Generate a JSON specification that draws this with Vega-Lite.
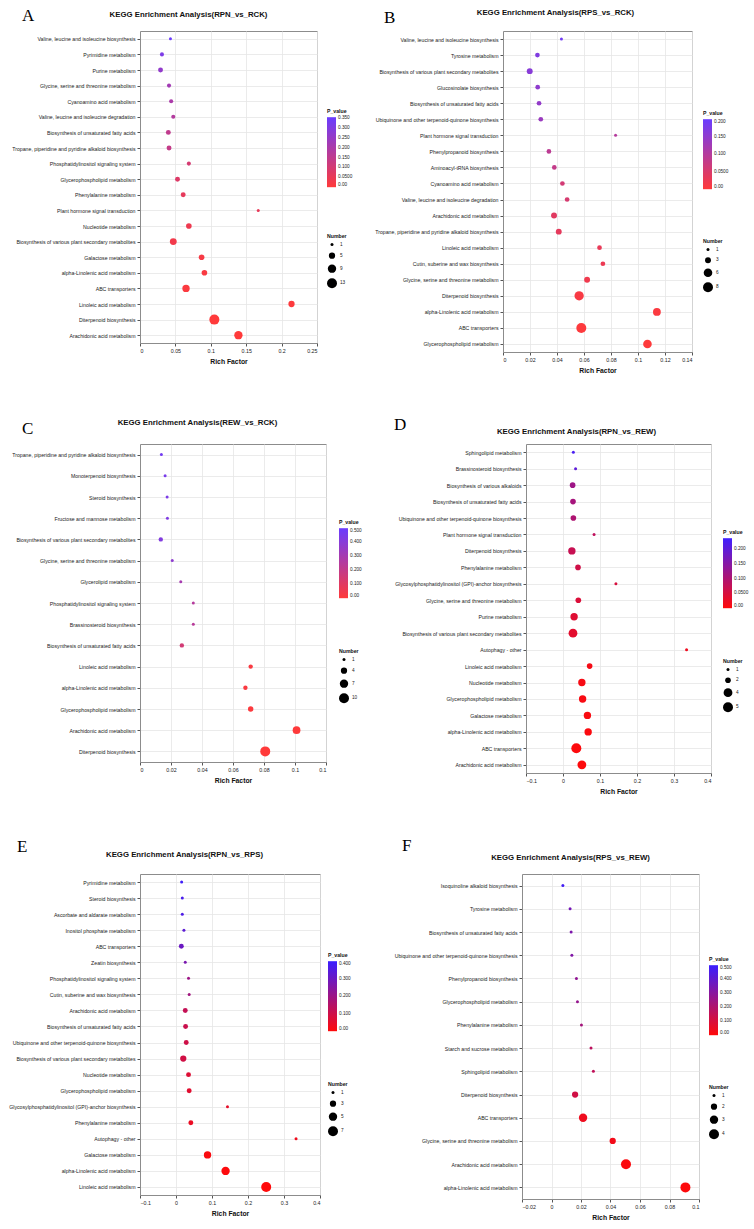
{
"$schema": "https://vega.github.io/schema/vega-lite/v6.json",
"background": "white",
"padding": {"left": 8, "top": 6, "right": 0, "bottom": 0},
"datasets": {
"A": [
{"pathway": "Valine, leucine and isoleucine biosynthesis", "rich": 0.043, "p": 0.352, "number": 1},
{"pathway": "Pyrimidine metabolism", "rich": 0.031, "p": 0.31, "number": 2},
{"pathway": "Purine metabolism", "rich": 0.029, "p": 0.26, "number": 3},
{"pathway": "Glycine, serine and threonine metabolism", "rich": 0.041, "p": 0.22, "number": 2},
{"pathway": "Cyanoamino acid metabolism", "rich": 0.044, "p": 0.2, "number": 2},
{"pathway": "Valine, leucine and isoleucine degradation", "rich": 0.047, "p": 0.18, "number": 2},
{"pathway": "Biosynthesis of unsaturated fatty acids", "rich": 0.040, "p": 0.15, "number": 3},
{"pathway": "Tropane, piperidine and pyridine alkaloid biosynthesis", "rich": 0.041, "p": 0.14, "number": 3},
{"pathway": "Phosphatidylinositol signaling system", "rich": 0.069, "p": 0.1, "number": 2},
{"pathway": "Glycerophospholipid metabolism", "rich": 0.053, "p": 0.08, "number": 3},
{"pathway": "Phenylalanine metabolism", "rich": 0.061, "p": 0.06, "number": 3},
{"pathway": "Plant hormone signal transduction", "rich": 0.167, "p": 0.055, "number": 1},
{"pathway": "Nucleotide metabolism", "rich": 0.069, "p": 0.04, "number": 4},
{"pathway": "Biosynthesis of various plant secondary metabolites", "rich": 0.047, "p": 0.03, "number": 6},
{"pathway": "Galactose metabolism", "rich": 0.087, "p": 0.02, "number": 4},
{"pathway": "alpha-Linolenic acid metabolism", "rich": 0.091, "p": 0.015, "number": 4},
{"pathway": "ABC transporters", "rich": 0.065, "p": 0.01, "number": 7},
{"pathway": "Linoleic acid metabolism", "rich": 0.214, "p": 0.005, "number": 5},
{"pathway": "Diterpenoid biosynthesis", "rich": 0.105, "p": 0.001, "number": 13},
{"pathway": "Arachidonic acid metabolism", "rich": 0.139, "p": 0.0005, "number": 9}
],
"B": [
{"pathway": "Valine, leucine and isoleucine biosynthesis", "rich": 0.0433, "p": 0.19, "number": 1},
{"pathway": "Tyrosine metabolism", "rich": 0.0255, "p": 0.17, "number": 2},
{"pathway": "Biosynthesis of various plant secondary metabolites", "rich": 0.0198, "p": 0.16, "number": 3},
{"pathway": "Glucosinolate biosynthesis", "rich": 0.0257, "p": 0.15, "number": 2},
{"pathway": "Biosynthesis of unsaturated fatty acids", "rich": 0.0267, "p": 0.145, "number": 2},
{"pathway": "Ubiquinone and other terpenoid-quinone biosynthesis", "rich": 0.028, "p": 0.135, "number": 2},
{"pathway": "Plant hormone signal transduction", "rich": 0.0834, "p": 0.1, "number": 1},
{"pathway": "Phenylpropanoid biosynthesis", "rich": 0.034, "p": 0.09, "number": 2},
{"pathway": "Aminoacyl-tRNA biosynthesis", "rich": 0.038, "p": 0.08, "number": 2},
{"pathway": "Cyanoamino acid metabolism", "rich": 0.044, "p": 0.06, "number": 2},
{"pathway": "Valine, leucine and isoleucine degradation", "rich": 0.0475, "p": 0.055, "number": 2},
{"pathway": "Arachidonic acid metabolism", "rich": 0.0378, "p": 0.04, "number": 3},
{"pathway": "Tropane, piperidine and pyridine alkaloid biosynthesis", "rich": 0.0413, "p": 0.035, "number": 3},
{"pathway": "Linoleic acid metabolism", "rich": 0.0715, "p": 0.03, "number": 2},
{"pathway": "Cutin, suberine and wax biosynthesis", "rich": 0.074, "p": 0.025, "number": 2},
{"pathway": "Glycine, serine and threonine metabolism", "rich": 0.0623, "p": 0.02, "number": 3},
{"pathway": "Diterpenoid biosynthesis", "rich": 0.0564, "p": 0.01, "number": 7},
{"pathway": "alpha-Linolenic acid metabolism", "rich": 0.114, "p": 0.006, "number": 5},
{"pathway": "ABC transporters", "rich": 0.058, "p": 0.003, "number": 8},
{"pathway": "Glycerophospholipid metabolism", "rich": 0.107, "p": 0.001, "number": 6}
],
"C": [
{"pathway": "Tropane, piperidine and pyridine alkaloid biosynthesis", "rich": 0.0138, "p": 0.47, "number": 1},
{"pathway": "Monoterpenoid biosynthesis", "rich": 0.0162, "p": 0.45, "number": 1},
{"pathway": "Steroid biosynthesis", "rich": 0.0175, "p": 0.44, "number": 1},
{"pathway": "Fructose and mannose metabolism", "rich": 0.0177, "p": 0.43, "number": 1},
{"pathway": "Biosynthesis of various plant secondary metabolites", "rich": 0.0134, "p": 0.42, "number": 2},
{"pathway": "Glycine, serine and threonine metabolism", "rich": 0.0208, "p": 0.38, "number": 1},
{"pathway": "Glycerolipid metabolism", "rich": 0.0263, "p": 0.3, "number": 1},
{"pathway": "Phosphatidylinositol signaling system", "rich": 0.0344, "p": 0.25, "number": 1},
{"pathway": "Brassinosteroid biosynthesis", "rich": 0.0344, "p": 0.24, "number": 1},
{"pathway": "Biosynthesis of unsaturated fatty acids", "rich": 0.027, "p": 0.15, "number": 2},
{"pathway": "Linoleic acid metabolism", "rich": 0.0714, "p": 0.02, "number": 2},
{"pathway": "alpha-Linolenic acid metabolism", "rich": 0.068, "p": 0.018, "number": 2},
{"pathway": "Glycerophospholipid metabolism", "rich": 0.0714, "p": 0.01, "number": 3},
{"pathway": "Arachidonic acid metabolism", "rich": 0.101, "p": 0.003, "number": 6},
{"pathway": "Diterpenoid biosynthesis", "rich": 0.0808, "p": 0.001, "number": 10}
],
"D": [
{"pathway": "Sphingolipid metabolism", "rich": 0.028, "p": 0.225, "number": 1},
{"pathway": "Brassinosteroid biosynthesis", "rich": 0.034, "p": 0.2, "number": 1},
{"pathway": "Biosynthesis of various alkaloids", "rich": 0.026, "p": 0.12, "number": 2},
{"pathway": "Biosynthesis of unsaturated fatty acids", "rich": 0.027, "p": 0.11, "number": 2},
{"pathway": "Ubiquinone and other terpenoid-quinone biosynthesis", "rich": 0.028, "p": 0.1, "number": 2},
{"pathway": "Plant hormone signal transduction", "rich": 0.084, "p": 0.08, "number": 1},
{"pathway": "Diterpenoid biosynthesis", "rich": 0.024, "p": 0.07, "number": 3},
{"pathway": "Phenylalanine metabolism", "rich": 0.0405, "p": 0.06, "number": 2},
{"pathway": "Glycosylphosphatidylinositol (GPI)-anchor biosynthesis", "rich": 0.143, "p": 0.05, "number": 1},
{"pathway": "Glycine, serine and threonine metabolism", "rich": 0.0414, "p": 0.045, "number": 2},
{"pathway": "Purine metabolism", "rich": 0.03, "p": 0.04, "number": 3},
{"pathway": "Biosynthesis of various plant secondary metabolites", "rich": 0.027, "p": 0.035, "number": 4},
{"pathway": "Autophagy - other", "rich": 0.334, "p": 0.02, "number": 1},
{"pathway": "Linoleic acid metabolism", "rich": 0.072, "p": 0.012, "number": 2},
{"pathway": "Nucleotide metabolism", "rich": 0.051, "p": 0.01, "number": 3},
{"pathway": "Glycerophospholipid metabolism", "rich": 0.053, "p": 0.009, "number": 3},
{"pathway": "Galactose metabolism", "rich": 0.066, "p": 0.007, "number": 3},
{"pathway": "alpha-Linolenic acid metabolism", "rich": 0.068, "p": 0.005, "number": 3},
{"pathway": "ABC transporters", "rich": 0.036, "p": 0.003, "number": 5},
{"pathway": "Arachidonic acid metabolism", "rich": 0.051, "p": 0.002, "number": 4}
],
"E": [
{"pathway": "Pyrimidine metabolism", "rich": 0.0157, "p": 0.39, "number": 1},
{"pathway": "Steroid biosynthesis", "rich": 0.0175, "p": 0.37, "number": 1},
{"pathway": "Ascorbate and aldarate metabolism", "rich": 0.0175, "p": 0.36, "number": 1},
{"pathway": "Inositol phosphate metabolism", "rich": 0.022, "p": 0.33, "number": 1},
{"pathway": "ABC transporters", "rich": 0.0148, "p": 0.3, "number": 2},
{"pathway": "Zeatin biosynthesis", "rich": 0.0257, "p": 0.27, "number": 1},
{"pathway": "Phosphatidylinositol signaling system", "rich": 0.0348, "p": 0.2, "number": 1},
{"pathway": "Cutin, suberine and wax biosynthesis", "rich": 0.0366, "p": 0.19, "number": 1},
{"pathway": "Arachidonic acid metabolism", "rich": 0.0257, "p": 0.12, "number": 2},
{"pathway": "Biosynthesis of unsaturated fatty acids", "rich": 0.0266, "p": 0.11, "number": 2},
{"pathway": "Ubiquinone and other terpenoid-quinone biosynthesis", "rich": 0.0284, "p": 0.1, "number": 2},
{"pathway": "Biosynthesis of various plant secondary metabolites", "rich": 0.0202, "p": 0.095, "number": 3},
{"pathway": "Nucleotide metabolism", "rich": 0.0348, "p": 0.07, "number": 2},
{"pathway": "Glycerophospholipid metabolism", "rich": 0.0366, "p": 0.06, "number": 2},
{"pathway": "Glycosylphosphatidylinositol (GPI)-anchor biosynthesis", "rich": 0.143, "p": 0.05, "number": 1},
{"pathway": "Phenylalanine metabolism", "rich": 0.0412, "p": 0.04, "number": 2},
{"pathway": "Autophagy - other", "rich": 0.3335, "p": 0.03, "number": 1},
{"pathway": "Galactose metabolism", "rich": 0.0876, "p": 0.01, "number": 4},
{"pathway": "alpha-Linolenic acid metabolism", "rich": 0.1377, "p": 0.005, "number": 5},
{"pathway": "Linoleic acid metabolism", "rich": 0.2506, "p": 0.001, "number": 7}
],
"F": [
{"pathway": "Isoquinoline alkaloid biosynthesis", "rich": 0.0077, "p": 0.48, "number": 1},
{"pathway": "Tyrosine metabolism", "rich": 0.0126, "p": 0.35, "number": 1},
{"pathway": "Biosynthesis of unsaturated fatty acids", "rich": 0.0133, "p": 0.33, "number": 1},
{"pathway": "Ubiquinone and other terpenoid-quinone biosynthesis", "rich": 0.0138, "p": 0.32, "number": 1},
{"pathway": "Phenylpropanoid biosynthesis", "rich": 0.0169, "p": 0.28, "number": 1},
{"pathway": "Glycerophospholipid metabolism", "rich": 0.0176, "p": 0.27, "number": 1},
{"pathway": "Phenylalanine metabolism", "rich": 0.0203, "p": 0.23, "number": 1},
{"pathway": "Starch and sucrose metabolism", "rich": 0.0268, "p": 0.17, "number": 1},
{"pathway": "Sphingolipid metabolism", "rich": 0.0284, "p": 0.16, "number": 1},
{"pathway": "Diterpenoid biosynthesis", "rich": 0.016, "p": 0.12, "number": 2},
{"pathway": "ABC transporters", "rich": 0.0214, "p": 0.04, "number": 3},
{"pathway": "Glycine, serine and threonine metabolism", "rich": 0.0415, "p": 0.03, "number": 2},
{"pathway": "Arachidonic acid metabolism", "rich": 0.0505, "p": 0.01, "number": 4},
{"pathway": "alpha-Linolenic acid metabolism", "rich": 0.0908, "p": 0.005, "number": 4}
]
},
"spacing": 40,
"resolve": {"scale": {"color": "independent", "size": "independent"}, "legend": {"color": "independent", "size": "independent"}},
"vconcat": [
{
"hconcat": [
{
"data": {"name": "A"}, "width": 177, "height": 312,
"title": {"text": "A", "dx": -118, "offset": -15.4},
"mark": {"type": "point", "filled": true, "opacity": 1},
"encoding": {
"y": {"field": "pathway", "type": "nominal", "sort": null, "axis": {"title": "KEGG Enrichment Analysis(RPN_vs_RCK)", "titleX": 48, "titleY": -17, "titleAlign": "center", "titleBaseline": "middle", "titleAngle": 0, "grid": true}},
"x": {"field": "rich", "type": "quantitative", "scale": {"domain": [0, 0.25], "nice": false, "zero": false}, "axis": {"title": "Rich Factor", "values": [0, 0.05, 0.1, 0.15, 0.2, 0.25], "format": "~g", "grid": true}},
"color": {"field": "p", "type": "quantitative", "scale": {"domain": [0, 0.354], "range": ["#ff3a3a", "#6a3cff"], "interpolate": "rgb"}, "legend": {"title": "P_value", "values": [0, 0.05, 0.1, 0.15, 0.2, 0.25, 0.3, 0.35], "labelExpr": "datum.value === 0 ? '0.00' : format(datum.value, '.3r')", "legendX": 187, "legendY": 78}},
"size": {"field": "number", "type": "quantitative", "scale": {"domain": [1, 13], "range": [9, 100], "zero": false}, "legend": {"title": "Number", "values": [1, 5, 9, 13], "format": "d", "legendX": 187, "legendY": 203}}
}
},
{
"data": {"name": "B"}, "width": 189, "height": 321,
"title": {"text": "B", "dx": -119, "offset": -19.4},
"mark": {"type": "point", "filled": true, "opacity": 1},
"encoding": {
"y": {"field": "pathway", "type": "nominal", "sort": null, "axis": {"title": "KEGG Enrichment Analysis(RPS_vs_RCK)", "titleX": 52, "titleY": -19, "titleAlign": "center", "titleBaseline": "middle", "titleAngle": 0, "grid": true}},
"x": {"field": "rich", "type": "quantitative", "scale": {"domain": [0, 0.14], "nice": false, "zero": false}, "axis": {"title": "Rich Factor", "values": [0, 0.02, 0.04, 0.06, 0.08, 0.1, 0.12, 0.14], "format": "~g", "grid": true}},
"color": {"field": "p", "type": "quantitative", "scale": {"domain": [0, 0.2], "range": ["#ff3a3a", "#6a3cff"], "interpolate": "rgb"}, "legend": {"title": "P_value", "values": [0, 0.05, 0.1, 0.15, 0.2], "labelExpr": "datum.value === 0 ? '0.00' : format(datum.value, '.3r')", "legendX": 200, "legendY": 80}},
"size": {"field": "number", "type": "quantitative", "scale": {"domain": [1, 8], "range": [9, 100], "zero": false}, "legend": {"title": "Number", "values": [1, 3, 6, 8], "format": "d", "legendX": 200, "legendY": 208}}
}
}
],
"spacing": 186, "bounds": "flush",
"resolve": {"scale": {"color": "independent", "size": "independent"}, "legend": {"color": "independent", "size": "independent"}}
},
{
"hconcat": [
{
"data": {"name": "C"}, "width": 186, "height": 318,
"title": {"text": "C", "dx": -118, "offset": -20.4},
"mark": {"type": "point", "filled": true, "opacity": 1},
"encoding": {
"y": {"field": "pathway", "type": "nominal", "sort": null, "axis": {"title": "KEGG Enrichment Analysis(REW_vs_RCK)", "titleX": 57, "titleY": -22, "titleAlign": "center", "titleBaseline": "middle", "titleAngle": 0, "grid": true}},
"x": {"field": "rich", "type": "quantitative", "scale": {"domain": [0, 0.12], "nice": false, "zero": false}, "axis": {"title": "Rich Factor", "values": [0, 0.02, 0.04, 0.06, 0.08, 0.1, 0.12], "format": "~g", "grid": true}},
"color": {"field": "p", "type": "quantitative", "scale": {"domain": [0, 0.5], "range": ["#ff3a3a", "#6a3cff"], "interpolate": "rgb"}, "legend": {"title": "P_value", "values": [0, 0.1, 0.2, 0.3, 0.4, 0.5], "labelExpr": "datum.value === 0 ? '0.00' : format(datum.value, '.3r')", "legendX": 199, "legendY": 76}},
"size": {"field": "number", "type": "quantitative", "scale": {"domain": [1, 10], "range": [9, 100], "zero": false}, "legend": {"title": "Number", "values": [1, 4, 7, 10], "format": "d", "legendX": 199, "legendY": 205}}
}
},
{
"data": {"name": "D"}, "width": 185, "height": 329,
"title": {"text": "D", "dx": -132, "offset": -7.4},
"mark": {"type": "point", "filled": true, "opacity": 1},
"encoding": {
"y": {"field": "pathway", "type": "nominal", "sort": null, "axis": {"title": "KEGG Enrichment Analysis(RPN_vs_REW)", "titleX": 50, "titleY": -13, "titleAlign": "center", "titleBaseline": "middle", "titleAngle": 0, "grid": true}},
"x": {"field": "rich", "type": "quantitative", "scale": {"domain": [-0.1, 0.4], "nice": false, "zero": false}, "axis": {"title": "Rich Factor", "values": [-0.1, 0, 0.1, 0.2, 0.3, 0.4], "format": "~g", "grid": true}},
"color": {"field": "p", "type": "quantitative", "scale": {"domain": [0, 0.237], "range": ["#ff0a0a", "#4020ff"], "interpolate": "rgb"}, "legend": {"title": "P_value", "values": [0, 0.05, 0.1, 0.15, 0.2], "labelExpr": "datum.value === 0 ? '0.00' : format(datum.value, '.3r')", "legendX": 197, "legendY": 86}},
"size": {"field": "number", "type": "quantitative", "scale": {"domain": [1, 5], "range": [9, 100], "zero": false}, "legend": {"title": "Number", "values": [1, 2, 4, 5], "format": "d", "legendX": 197, "legendY": 215}}
}
}
],
"spacing": 200, "bounds": "flush",
"resolve": {"scale": {"color": "independent", "size": "independent"}, "legend": {"color": "independent", "size": "independent"}}
},
{
"hconcat": [
{
"data": {"name": "E"}, "width": 180, "height": 321,
"title": {"text": "E", "dx": -123, "offset": -6.4},
"mark": {"type": "point", "filled": true, "opacity": 1},
"encoding": {
"y": {"field": "pathway", "type": "nominal", "sort": null, "axis": {"title": "KEGG Enrichment Analysis(RPN_vs_RPS)", "titleX": 44, "titleY": -20, "titleAlign": "center", "titleBaseline": "middle", "titleAngle": 0, "grid": true}},
"x": {"field": "rich", "type": "quantitative", "scale": {"domain": [-0.1, 0.4], "nice": false, "zero": false}, "axis": {"title": "Rich Factor", "values": [-0.1, 0, 0.1, 0.2, 0.3, 0.4], "format": "~g", "grid": true}},
"color": {"field": "p", "type": "quantitative", "scale": {"domain": [0, 0.4], "range": ["#ff0a0a", "#3a1eff"], "interpolate": "rgb"}, "legend": {"title": "P_value", "values": [0, 0.1, 0.2, 0.3, 0.4], "labelExpr": "datum.value === 0 ? '0.00' : format(datum.value, '.3r')", "legendX": 188, "legendY": 79}},
"size": {"field": "number", "type": "quantitative", "scale": {"domain": [1, 7], "range": [9, 100], "zero": false}, "legend": {"title": "Number", "values": [1, 3, 5, 7], "format": "d", "legendX": 188, "legendY": 208}}
}
},
{
"data": {"name": "F"}, "width": 177, "height": 325,
"title": {"text": "F", "dx": -120, "offset": -2.4},
"mark": {"type": "point", "filled": true, "opacity": 1},
"encoding": {
"y": {"field": "pathway", "type": "nominal", "sort": null, "axis": {"title": "KEGG Enrichment Analysis(RPS_vs_REW)", "titleX": 48, "titleY": -17, "titleAlign": "center", "titleBaseline": "middle", "titleAngle": 0, "grid": true}},
"x": {"field": "rich", "type": "quantitative", "scale": {"domain": [-0.02, 0.1], "nice": false, "zero": false}, "axis": {"title": "Rich Factor", "values": [-0.02, 0, 0.02, 0.04, 0.06, 0.08, 0.1], "format": "~g", "grid": true}},
"color": {"field": "p", "type": "quantitative", "scale": {"domain": [0, 0.5], "range": ["#ff0a0a", "#3a1eff"], "interpolate": "rgb"}, "legend": {"title": "P_value", "values": [0, 0.1, 0.2, 0.3, 0.4, 0.5], "labelExpr": "datum.value === 0 ? '0.00' : format(datum.value, '.3r')", "legendX": 187, "legendY": 83}},
"size": {"field": "number", "type": "quantitative", "scale": {"domain": [1, 4], "range": [9, 100], "zero": false}, "legend": {"title": "Number", "values": [1, 2, 3, 4], "format": "d", "legendX": 187, "legendY": 211}}
}
}
],
"spacing": 202, "bounds": "flush",
"resolve": {"scale": {"color": "independent", "size": "independent"}, "legend": {"color": "independent", "size": "independent"}}
}
],
"config": {
"font": "Liberation Sans",
"view": {"stroke": "#8c8c8c", "strokeWidth": 1},
"axis": {"labelFont": "Liberation Sans", "labelFontSize": 5.3, "labelColor": "#222222", "tickColor": "#555555", "tickSize": 3, "domainColor": "#8c8c8c", "gridColor": "#e6e6e6", "gridWidth": 0.8, "titleFont": "Liberation Sans", "titleFontWeight": "bold", "titleColor": "#111111", "labelPadding": 2},
"axisX": {"titleFontSize": 6.8, "titlePadding": 5},
"axisY": {"titleFontSize": 7.8, "labelFontSize": 5.2},
"legend": {"orient": "none", "titleFont": "Liberation Sans", "titleFontSize": 5.2, "titleFontWeight": "bold", "titleColor": "#111111", "labelFont": "Liberation Sans", "labelFontSize": 4.7, "labelColor": "#222222", "titlePadding": 3, "gradientLength": 70, "gradientThickness": 9, "gradientStrokeWidth": 0, "symbolType": "circle", "symbolFillColor": "#000000", "symbolStrokeWidth": 0, "rowPadding": 5, "labelOffset": 3},
"title": {"font": "Liberation Serif", "fontSize": 17, "fontWeight": "normal", "anchor": "start", "frame": "group", "color": "#000000"}
}
}
